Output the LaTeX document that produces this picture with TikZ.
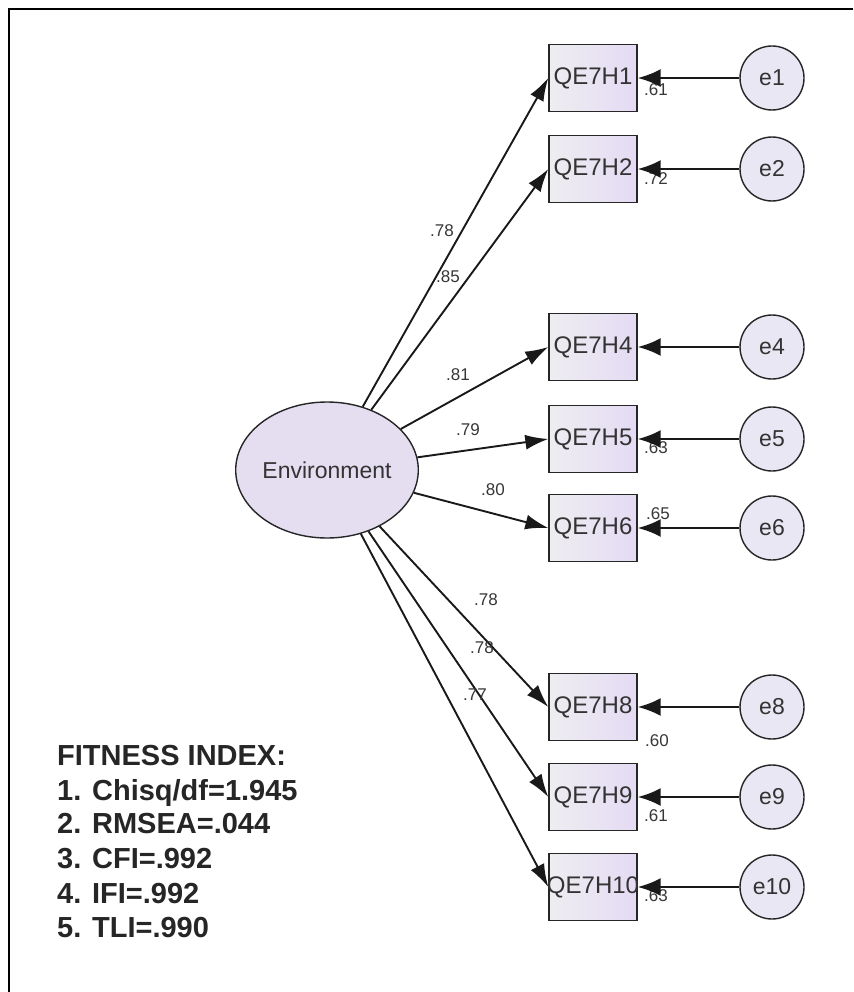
\documentclass[tikz,border=0pt]{standalone}
\usepackage{fontspec}
\setmainfont{Liberation Sans}
\usetikzlibrary{arrows.meta,shapes.geometric}

\definecolor{boxL}{RGB}{238,237,240}
\definecolor{boxR}{RGB}{228,219,244}
\definecolor{latfill}{RGB}{229,221,240}
\definecolor{errfill}{RGB}{233,231,243}
\definecolor{lblgray}{RGB}{55,55,55}

\tikzset{
  obsbox/.style={draw=black!85, line width=1.4pt, minimum width=88pt, minimum height=67pt,
    inner sep=0pt, left color=boxL, right color=boxR, shading angle=90},
  obstext/.style={font=\fontsize{24}{24}\selectfont, text=black!80, inner sep=0pt},
  errc/.style={circle, draw=black!85, line width=1.4pt, minimum size=64pt, inner sep=0pt,
    fill=errfill, font=\fontsize{23}{23}\selectfont, text=black!80},
  latentc/.style={ellipse, draw=black!85, line width=1.4pt, minimum width=176pt,
    minimum height=136pt, inner sep=0pt, fill=latfill,
    font=\fontsize{23}{23}\selectfont, text=black!80},
  loadlbl/.style={font=\fontsize{17}{17}\selectfont, text=lblgray, inner sep=0pt},
  fitlbl/.style={font=\bfseries\fontsize{29}{29}\selectfont, text=black!85, inner sep=0pt, anchor=base west},
  loading/.style={line width=1.9pt, draw=black!90, -{Latex[length=23pt,width=15pt]}},
  errpath/.style={line width=2.3pt, draw=black!90, -{Latex[length=23pt,width=18pt]}},
}

\begin{document}
\begin{tikzpicture}[x=1pt,y=-1pt]
  \useasboundingbox (0,0) rectangle (853,992);
  \fill[white] (0,0) rectangle (853,992);
  % frame
  \draw[line width=2.2pt, black] (9,992) -- (9,9) -- (853,9);

  % latent factor
  \node[latentc] (env) at (327,470) {Environment};

  % indicators (fixed-size boxes, labels may spill over) and error terms
  \foreach \n/\y in {1/78, 2/169, 4/347, 5/439, 6/528, 8/707, 9/797, 10/887} {
    \node[obsbox] (h\n) at (593,\y) {};
    \node[obstext] (t\n) at (h\n.center) {QE7H\n};
    \node[errc] (e\n) at (772,\y) {e\n};
  }

  % squared multiple correlations (partly hidden by the arrowheads)
  \node[loadlbl] (r1) at (656,90) {.61};
  \node[loadlbl] (r2) at (656,179) {.72};
  \node[loadlbl] (r5) at (656,448) {.63};
  \node[loadlbl] (r6) at (658,514) {.65};
  \node[loadlbl] (r8) at (657,741) {.60};
  \node[loadlbl] (r9) at (656,816) {.61};
  \node[loadlbl] (r10) at (656,896) {.63};

  % error paths
  \foreach \n in {1,2,4,5,6,8,9,10}
    \draw[errpath] (e\n) -- (h\n.east);

  % factor loadings
  \foreach \n in {1,2,4,5,6,8,9,10}
    \draw[loading] (env) -- (h\n.west);

  \node[loadlbl] (l1) at (442,231) {.78};
  \node[loadlbl] (l2) at (448,277) {.85};
  \node[loadlbl] (l4) at (458,375) {.81};
  \node[loadlbl] (l5) at (468,430) {.79};
  \node[loadlbl] (l6) at (493,490) {.80};
  \node[loadlbl] (l8) at (486,600) {.78};
  \node[loadlbl] (l9) at (482,648) {.78};
  \node[loadlbl] (l10) at (475,695) {.77};

  % fit indices
  \node[fitlbl] (f0) at (57,765) {FITNESS INDEX:};
  \node[fitlbl] (f1) at (57,800) {1. Chisq/df=1.945};
  \node[fitlbl] (f2) at (57,833) {2. RMSEA=.044};
  \node[fitlbl] (f3) at (57,868) {3. CFI=.992};
  \node[fitlbl] (f4) at (57,903) {4. IFI=.992};
  \node[fitlbl] (f5) at (57,937) {5. TLI=.990};
\end{tikzpicture}
\end{document}
